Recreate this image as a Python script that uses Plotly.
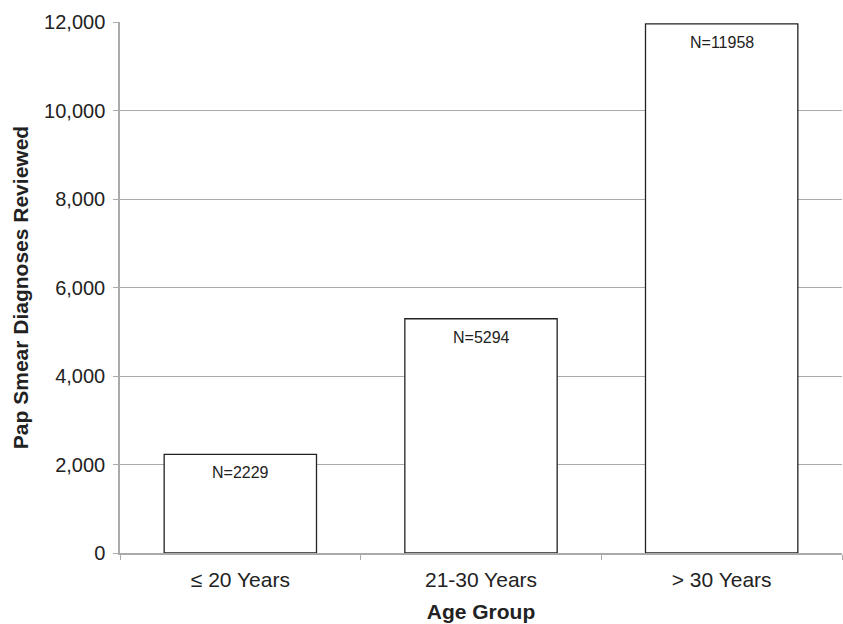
import plotly.graph_objects as go

categories = ["\u2264 20 Years", "21-30 Years", "> 30 Years"]
counts = [2229, 5294, 11958]
labels = ["N=2229", "N=5294", "N=11958"]
y_ticks = [0, 2000, 4000, 6000, 8000, 10000, 12000]
y_tick_text = ["0", "2,000", "4,000", "6,000", "8,000", "10,000", "12,000"]

FONT = "Liberation Sans, Arial, Helvetica, sans-serif"

fig = go.Figure()
fig.add_trace(go.Bar(
    x=categories, y=counts,
    marker=dict(color="white", line=dict(color="#222222", width=1.3)),
    hoverinfo="skip",
))

for c, v, t in zip(categories, counts, labels):
    fig.add_annotation(x=c, y=v, text=t, showarrow=False, yanchor="top",
                       yshift=-8, font=dict(family=FONT, size=16, color="#222222"))

fig.update_layout(
    width=843, height=624,
    margin=dict(l=120, r=1, t=22, b=71),
    paper_bgcolor="white", plot_bgcolor="white",
    bargap=0.367,
    showlegend=False,
    font=dict(family=FONT, color="#222222"),
)
fig.update_xaxes(
    automargin=False,
    showgrid=False, showline=True, linecolor="#aaaaaa", linewidth=1.5,
    ticks="outside", tickson="boundaries", ticklen=5, tickcolor="#aaaaaa",
    tickfont=dict(size=21, family=FONT, color="#222222"),
    ticklabelstandoff=7,
    title=dict(text="<b>Age Group</b>", font=dict(size=21, family=FONT, color="#222222"), standoff=14),
)
fig.update_yaxes(
    automargin=False,
    range=[0, 12000], tickvals=y_ticks, ticktext=y_tick_text,
    showgrid=True, gridcolor="#aaaaaa", gridwidth=1,
    showline=True, linecolor="#aaaaaa", linewidth=1.5,
    ticks="outside", ticklen=5, tickcolor="#aaaaaa",
    tickfont=dict(size=20, family=FONT, color="#222222"),
    ticklabelstandoff=4,
    zeroline=False,
    title=dict(text="<b>Pap Smear Diagnoses Reviewed</b>", font=dict(size=21, family=FONT, color="#222222"), standoff=10),
)

fig.write_html("out.html", config={"displayModeBar": False},
               post_script="document.body.style.margin='0';document.body.style.overflow='hidden';")
